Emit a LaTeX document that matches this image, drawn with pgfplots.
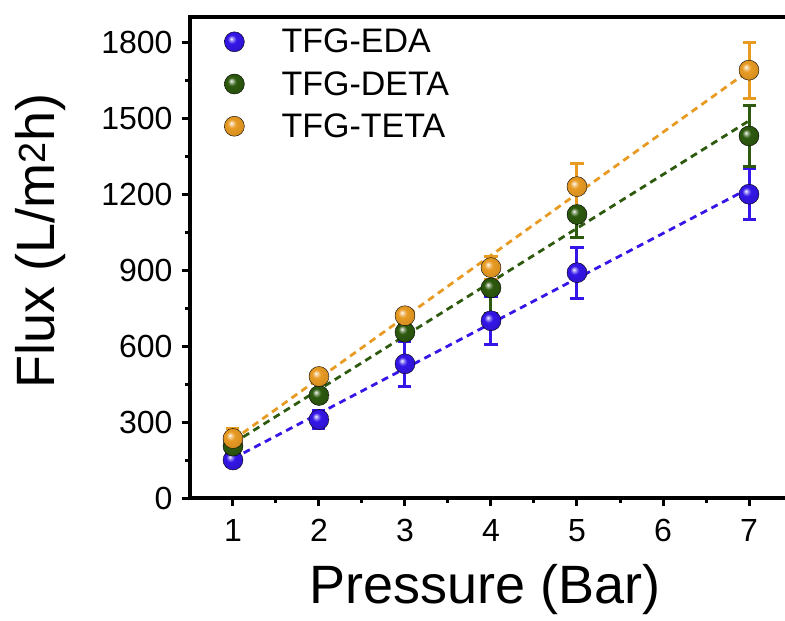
\documentclass[border=0pt]{standalone}
\usepackage{pgfplots}
\pgfplotsset{compat=1.18}
\usepackage{fontspec}
\setmainfont{Liberation Sans}
\definecolor{cEDA}{RGB}{52,22,232}
\definecolor{cDETA}{RGB}{45,90,14}
\definecolor{cTETA}{RGB}{232,155,35}

\pgfdeclareradialshading{ballEDA}{\pgfpoint{-8bp}{8bp}}{color(0bp)=(white); color(4bp)=(cEDA!45!white); color(11bp)=(cEDA); color(30bp)=(cEDA!88!black); color(50bp)=(cEDA!70!black)}
\pgfdeclareradialshading{ballDETA}{\pgfpoint{-8bp}{8bp}}{color(0bp)=(white); color(4bp)=(cDETA!45!white); color(11bp)=(cDETA); color(30bp)=(cDETA!88!black); color(50bp)=(cDETA!70!black)}
\pgfdeclareradialshading{ballTETA}{\pgfpoint{-8bp}{8bp}}{color(0bp)=(white); color(4bp)=(cTETA!45!white); color(11bp)=(cTETA); color(30bp)=(cTETA!90!black); color(50bp)=(cTETA!75!black)}
\pgfdeclareplotmark{ballEDA}{\shade[shading=ballEDA] (0pt,0pt) circle (\pgfplotmarksize);}
\pgfdeclareplotmark{ballDETA}{\shade[shading=ballDETA] (0pt,0pt) circle (\pgfplotmarksize);}
\pgfdeclareplotmark{ballTETA}{\shade[shading=ballTETA] (0pt,0pt) circle (\pgfplotmarksize);}

\pgfplotstableread{
x y e
1 150 25
2 310 35
3 530 90
4 700 95
5 890 100
7 1200 100
}\eda
\pgfplotstableread{
x y e
1 205 30
2 405 25
3 655 30
4 830 100
5 1120 90
7 1430 120
}\deta
\pgfplotstableread{
x y e
1 235 40
2 480 25
3 720 20
4 910 45
5 1230 90
7 1690 110
}\teta

\begin{document}
\begin{tikzpicture}
\begin{axis}[
  name=ax,
  scale only axis, width=602bp, height=481bp,
  xmin=0.5, xmax=7.5, ymin=0, ymax=1900,
  xtick={1,2,3,4,5,6,7}, minor x tick num=1,
  ytick={0,300,600,900,1200,1500,1800}, minor y tick num=1,
  tick pos=left,
  axis line style={line width=3.5bp},
  tick style={line width=3bp, black},
  tick align=outside, major tick length=8bp, minor tick length=5bp,
  ticklabel style={font=\fontsize{32bp}{34bp}\selectfont},
  yticklabel style={xshift=-6bp},
  xticklabel style={yshift=-10bp},
  /pgf/number format/assume math mode=true,
  /pgf/number format/1000 sep={},
  xlabel={Pressure (Bar)}, ylabel={Flux (L/m\textsuperscript{2}h)},
  every axis x label/.style={at={(axis description cs:0.49,0)}, yshift=-92bp, anchor=center, font=\fontsize{54bp}{58bp}\selectfont},
  every axis y label/.style={at={(axis description cs:-0.2475,0.534)}, rotate=90, anchor=center, font=\fontsize{54bp}{58bp}\selectfont},
  legend style={at={(axis description cs:0,1)}, anchor=north west, draw=none, fill=none,
    font=\fontsize{34bp}{36bp}\selectfont, xshift=31bp, yshift=-8bp, row sep=13bp,
    column sep=35bp},
  legend cell align=left,
  error bars/y dir=both, error bars/y explicit,
]
\addplot[cEDA, line width=2.8bp, dash pattern=on 7bp off 5bp, forget plot] coordinates {(1,156) (7,1223)};
\addplot[cDETA, line width=2.8bp, dash pattern=on 7bp off 5bp, forget plot] coordinates {(1,216) (7,1490)};
\addplot[cTETA, line width=2.8bp, dash pattern=on 7bp off 5bp, forget plot] coordinates {(1,229) (7,1688)};

\addplot[only marks, mark=ballEDA, mark size=10bp,
  error bars/error bar style={cEDA, line width=3bp},
  error bars/error mark options={rotate=90, cEDA, line width=3bp, mark size=6.5bp}]
  table[x=x, y=y, y error=e] {\eda};
\addplot[only marks, mark=ballDETA, mark size=10bp,
  error bars/error bar style={cDETA, line width=3bp},
  error bars/error mark options={rotate=90, cDETA, line width=3bp, mark size=6.5bp}]
  table[x=x, y=y, y error=e] {\deta};
\addplot[only marks, mark=ballTETA, mark size=10bp,
  error bars/error bar style={cTETA, line width=3bp},
  error bars/error mark options={rotate=90, cTETA, line width=3bp, mark size=6.5bp}]
  table[x=x, y=y, y error=e] {\teta};
\legend{TFG-EDA, TFG-DETA, TFG-TETA}
\end{axis}
\pgfresetboundingbox
\path[use as bounding box] ([xshift=-190bp,yshift=-123bp]ax.south west) rectangle ([xshift=-7bp,yshift=17bp]ax.north east);
\end{tikzpicture}
\end{document}
